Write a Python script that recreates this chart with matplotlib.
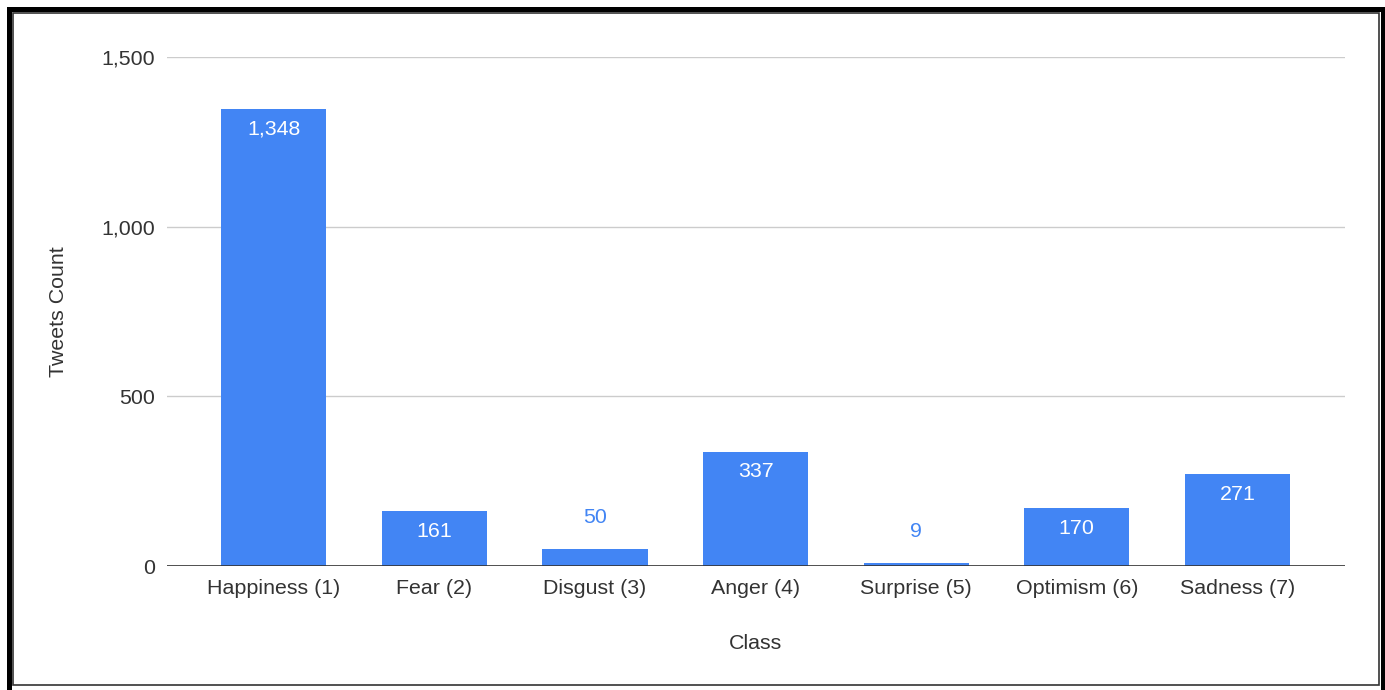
import matplotlib.pyplot as plt
from matplotlib.patches import Rectangle
from matplotlib.lines import Line2D
from matplotlib.ticker import FuncFormatter

classes = ["Happiness (1)", "Fear (2)", "Disgust (3)", "Anger (4)",
           "Surprise (5)", "Optimism (6)", "Sadness (7)"]
tweet_counts = [1348, 161, 50, 337, 9, 170, 271]
y_ticks = [0, 500, 1000, 1500]

bar_color = "#4285F4"
text_color = "#333333"
fs = 15.4

plt.rcParams['font.family'] = ['Liberation Sans', 'DejaVu Sans']

W, H = 1385, 690
fig = plt.figure(figsize=(W / 100, H / 100), dpi=100)
ax = fig.add_axes([167 / W, 1 - 566 / H, (1345 - 167) / W, (566 - 57) / H])

x = list(range(len(classes)))
ax.bar(x, tweet_counts, width=0.655, color=bar_color, zorder=3)

# value labels: inside the bar when it is tall enough, above it otherwise
for xi, v in zip(x, tweet_counts):
    label = f"{v:,}"
    if v >= 100:
        ax.annotate(label, (xi, v), xytext=(0, -14.5), textcoords="offset points",
                    ha="center", va="center", color="white", fontsize=fs, zorder=4)
    else:
        ax.annotate(label, (xi, v), xytext=(0, 22.8), textcoords="offset points",
                    ha="center", va="center", color=bar_color, fontsize=fs, zorder=4)

ax.set_xlim(-0.665, len(classes) - 1 + 0.67)
ax.set_ylim(0, 1500)
ax.set_yticks(y_ticks)
ax.yaxis.set_major_formatter(FuncFormatter(lambda v, p: f"{int(v):,}"))
ax.set_xticks(x)
ax.set_xticklabels(classes)

ax.grid(axis="y", color="#cccccc", linewidth=1, zorder=0)
ax.axhline(0, color="#333333", linewidth=1.2, zorder=5)
for s in ax.spines.values():
    s.set_visible(False)
ax.tick_params(length=0, labelsize=fs, colors=text_color, pad=9)
ax.tick_params(axis="y", pad=8.5)

ax.set_ylabel("Tweets Count", fontsize=fs, color=text_color, labelpad=24)
ax.set_xlabel("Class", fontsize=fs, color=text_color, labelpad=26)

# frame around the whole figure: thick black on left, top and right, thin inner box
fig.lines.append(Line2D([8.5 / W, 8.5 / W, (W - 2.5) / W, (W - 2.5) / W],
                        [0, 1 - 8.5 / H, 1 - 8.5 / H, 0],
                        transform=fig.transFigure, color="black", linewidth=3.6,
                        solid_joinstyle="miter"))
fig.patches.append(Rectangle((12.5 / W, 1 - 685 / H), (1379 - 12.5) / W, (685 - 13) / H,
                             transform=fig.transFigure, fill=False,
                             edgecolor="#333333", linewidth=1.2))

fig.savefig("out.png", dpi=100)
